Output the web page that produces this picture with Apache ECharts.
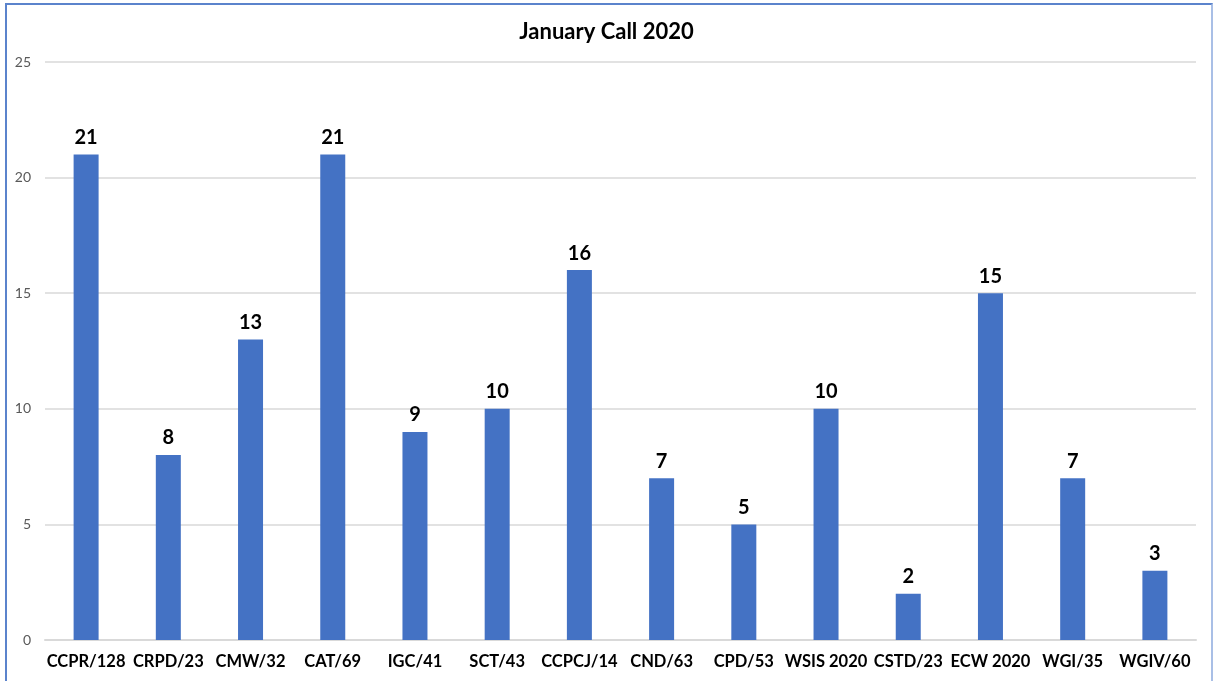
<!DOCTYPE html>
<html>
<head>
<meta charset="utf-8">
<script src="https://cdn.jsdelivr.net/npm/echarts@6/dist/echarts.min.js"></script>
<style>
  html, body { margin: 0; padding: 0; background: #fff; overflow: hidden; }
  #frame {
    position: absolute; left: 5px; top: 3px; width: 1204px; height: 700px;
    border-top: 2px solid #5b83cc; border-left: 2px solid #5b83cc; border-right: 2px solid #a9bfe6;
  }
  #chart { position: absolute; left: 0; top: 0; width: 1213px; height: 681px; }
</style>
</head>
<body>
<div id="frame"></div>
<div id="chart"></div>
<script>
const categories = ['CCPR/128', 'CRPD/23', 'CMW/32', 'CAT/69', 'IGC/41', 'SCT/43', 'CCPCJ/14',
  'CND/63', 'CPD/53', 'WSIS 2020', 'CSTD/23', 'ECW 2020', 'WGI/35', 'WGIV/60']
const counts = [21, 8, 13, 21, 9, 10, 16, 7, 5, 10, 2, 15, 7, 3]
const yTicks = { min: 0, max: 25, interval: 5 }

const chart = echarts.init(document.getElementById('chart'))

chart.setOption({
  animation: false,
  backgroundColor: 'transparent',
  textStyle: { fontFamily: 'Lato' },
  title: {
    text: 'January Call 2020',
    left: 'center',
    top: 16,
    textStyle: { fontFamily: 'Lato', fontSize: 22, fontWeight: 'bold', color: '#000' },
  },
  grid: { left: 45, right: 17, top: 62, bottom: 41 },
  xAxis: {
    type: 'category',
    data: categories,
    axisLine: { lineStyle: { color: '#d9d9d9', width: 2 } },
    axisTick: { show: false },
    axisLabel: {
      interval: 0,
      margin: 13,
      color: '#000',
      fontFamily: 'Lato',
      fontWeight: 'bold',
      fontSize: 16.5,
    },
  },
  yAxis: {
    type: 'value',
    min: yTicks.min,
    max: yTicks.max,
    interval: yTicks.interval,
    axisLine: { show: false },
    axisTick: { show: false },
    splitLine: { lineStyle: { color: '#d9d9d9', width: 1.5 } },
    axisLabel: { margin: 14, color: '#595959', fontFamily: 'Lato', fontSize: 14 },
  },
  series: [
    {
      type: 'bar',
      data: counts,
      barWidth: 25,
      itemStyle: { color: '#4472c4' },
      label: {
        show: true,
        position: 'top',
        distance: 7,
        color: '#000',
        fontFamily: 'Lato',
        fontWeight: 'bold',
        fontSize: 20,
      },
    },
  ],
})
</script>
</body>
</html>
